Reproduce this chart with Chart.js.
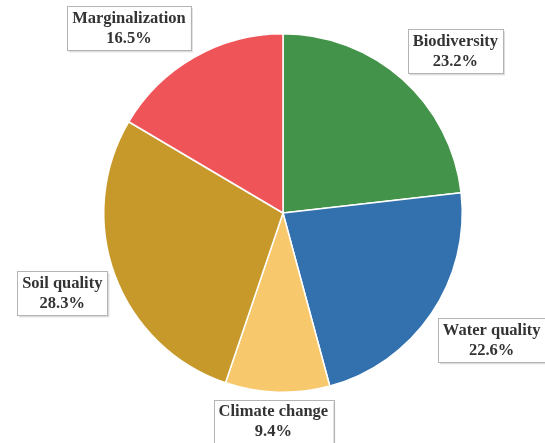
<!DOCTYPE html>
<html>
<head>
<meta charset="utf-8">
<script src="https://cdn.jsdelivr.net/npm/chart.js@4"></script>
<style>
  html, body { margin: 0; padding: 0; background: #fff; }
  #wrap { width: 545px; height: 443px; }
</style>
</head>
<body>
<div id="wrap"><canvas id="myChart" width="545" height="443"></canvas></div>
<script>
const categories = ["Biodiversity", "Water quality", "Climate change", "Soil quality", "Marginalization"];
const shares = [23.2, 22.6, 9.4, 28.3, 16.5];
const sliceColors = [
    "#43944a", //biodiversity
    "#3271ae", //water
    "#f8c96c", //climate
    "#c7992b", //soil
    "#ef5558" //marginalization
];

// boxed labels outside the pie, placed along each slice's mid angle
const boxLabels = {
    id: "boxLabels",
    afterDraw(chart) {
        const ctx = chart.ctx;
        const meta = chart.getDatasetMeta(0);
        ctx.save();
        ctx.font = "bold 16.5px 'Liberation Serif', 'Times New Roman', serif";
        ctx.textAlign = "center";
        ctx.textBaseline = "middle";
        meta.data.forEach((arc, i) => {
            const mid = (arc.startAngle + arc.endAngle) / 2;
            const sx = Math.cos(mid), sy = Math.sin(mid);
            const r = arc.outerRadius + 8;
            const line1 = categories[i];
            const line2 = shares[i].toFixed(1) + "%";
            const w = Math.max(ctx.measureText(line1).width, ctx.measureText(line2).width) + 10;
            const h = 44;
            const clamp = v => Math.max(-1, Math.min(1, v));
            const x = arc.x + r * sx + (w / 2) * clamp(2 * sx);
            const y = arc.y + r * sy + (h / 2) * clamp(2 * sy);
            // faint shadow like the original label boxes
            ctx.fillStyle = "#dcdcdc";
            ctx.fillRect(x - w / 2 + 2, y - h / 2 + 2, w, h);
            ctx.fillStyle = "#fff";
            ctx.fillRect(x - w / 2, y - h / 2, w, h);
            ctx.strokeStyle = "#b4b4b4";
            ctx.lineWidth = 1;
            ctx.strokeRect(Math.round(x - w / 2) + 0.5, Math.round(y - h / 2) + 0.5, Math.round(w), h);
            ctx.fillStyle = "#333";
            ctx.fillText(line1, x, y - 10);
            ctx.fillText(line2, x, y + 10);
        });
        ctx.restore();
    }
};

new Chart("myChart", {
    type: "pie",
    data: {
        labels: categories,
        datasets: [{
            data: shares,
            backgroundColor: sliceColors,
            borderColor: "#ffffff",
            borderWidth: 1.5
        }]
    },
    options: {
        responsive: false,
        animation: false,
        layout: { padding: { left: 21, right: 0, top: 33, bottom: 50 } },
        plugins: {
            legend: { display: false },
            tooltip: { enabled: false }
        }
    },
    plugins: [boxLabels]
});
</script>
</body>
</html>
